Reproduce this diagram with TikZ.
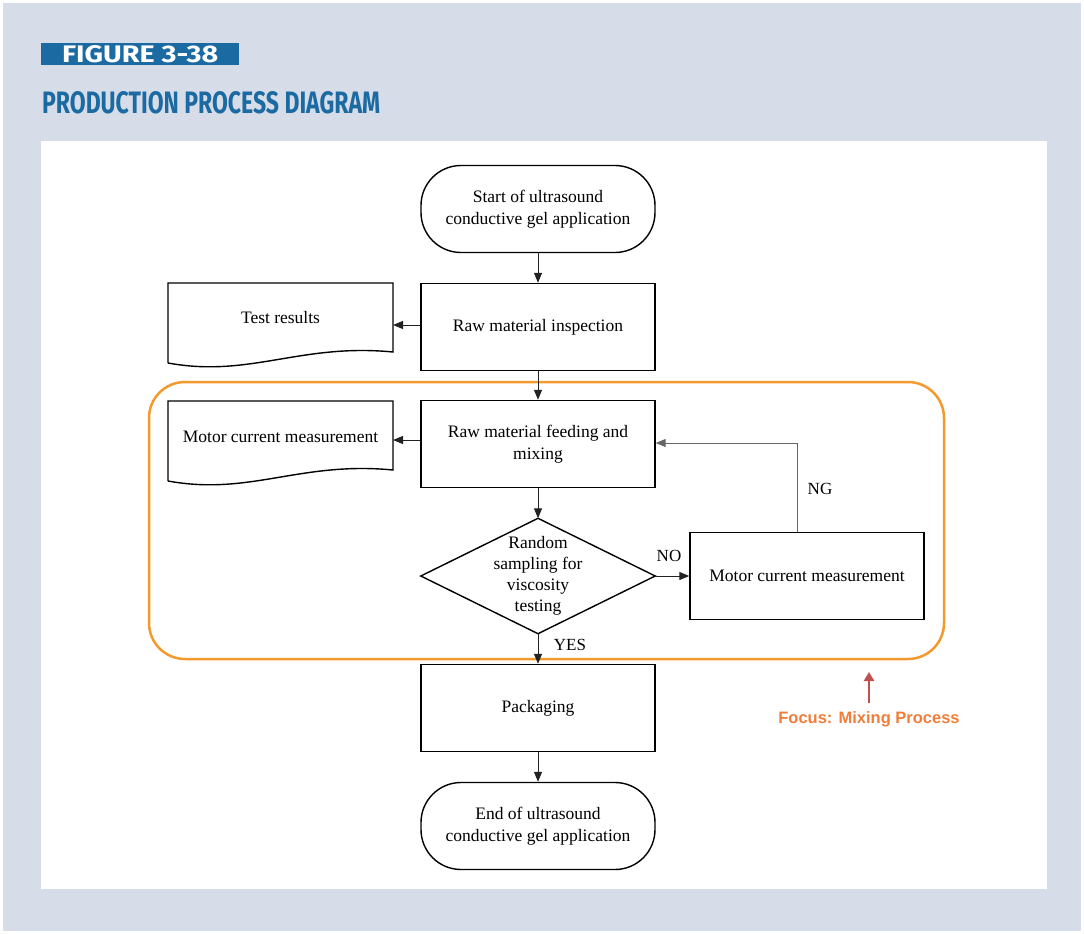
\documentclass[tikz,border=0pt]{standalone}
\usepackage{fontspec}
\setmainfont{Liberation Serif}
\newfontfamily\headfont{Fira Sans}
\newfontfamily\focusfont{Liberation Sans}
\usetikzlibrary{shapes.geometric,arrows.meta}
\definecolor{pagebg}{HTML}{D7DDE8}
\definecolor{figblue}{HTML}{1B6AA1}
\definecolor{focusorange}{HTML}{F39A2E}
\definecolor{focustext}{HTML}{F07E3A}
\definecolor{focusred}{HTML}{C0504D}
\definecolor{lineg}{HTML}{222222}
\tikzset{
  box/.style={draw=black, line width=1.4pt, minimum width=234pt, minimum height=87pt, inner sep=0pt, align=center, font=\fontsize{17.5}{22}\selectfont},
  terminal/.style={box, rounded corners=40pt},
  decision/.style={minimum width=234pt, minimum height=115pt, inner sep=0pt, align=center, font=\fontsize{17.5}{21}\selectfont},
  docarea/.style={minimum width=225pt, minimum height=70pt, inner sep=0pt, font=\fontsize{17.5}{22}\selectfont},
  docline/.style={draw=black, line width=1.4pt},
  flow/.style={draw=lineg, line width=1pt, -{Triangle[length=10pt,width=8pt]}},
  lbl/.style={font=\fontsize{17}{20}\selectfont},
}
\begin{document}
\begin{tikzpicture}[x=1pt,y=-1pt]
\useasboundingbox (0,0) rectangle (1084,934);
\fill[white] (0,0) rectangle (1084,934);
\fill[pagebg] (3,3) rectangle (1081,931);
\fill[white] (41,141) rectangle (1047,889);
% header
\fill[figblue] (41,43) rectangle (239,65);
\node[anchor=south west, inner sep=0pt, text=white] (fig) at (62,63) {\resizebox{156pt}{17pt}{\headfont\bfseries FIGURE 3-38}};
\node[anchor=south west, inner sep=0pt, text=figblue] (title) at (42,114) {\resizebox{338pt}{22pt}{\headfont\bfseries PRODUCTION PROCESS DIAGRAM}};
% focus frame
\draw[focusorange, line width=2.5pt, rounded corners=36pt] (149,382) rectangle (944,659);
% nodes
\node[terminal] (start) at (538,209) {Start of ultrasound\\conductive gel application};
\node[box] (insp) at (538,327) {Raw material inspection};
\node[box] (feed) at (538,444) {Raw material feeding and\\mixing};
\node[decision] (dec) at (538,576) {Random\\sampling for\\viscosity\\testing};
\draw[docline] (dec.west) -- (dec.north) -- (dec.east) -- (dec.south) -- cycle;
\node[box] (motor) at (807,576) {Motor current measurement};
\node[box] (pack) at (538,708) {Packaging};
\node[terminal] (end) at (538,826) {End of ultrasound\\conductive gel application};
% documents
\node[docarea] (test) at (280.5,318) {Test results};
\draw[docline] (168,363) -- (168,283) -- (393,283) -- (393,352) .. controls (300,343) and (250,378) .. (168,363);
\node[docarea] (mcm) at (280.5,437) {Motor current measurement};
\draw[docline] (168,481) -- (168,401) -- (393,401) -- (393,470) .. controls (300,461) and (250,496) .. (168,481);
\coordinate (testin) at (393,325);
\coordinate (mcmin) at (393,440);
\coordinate (ngup) at (797,443);
% connectors
\draw[flow] (start) -- (insp);
\draw[flow] (insp.west |- testin) -- (testin);
\draw[flow] (insp) -- (feed);
\draw[flow] (feed.west |- mcmin) -- (mcmin);
\draw[flow] (feed) -- (dec.north);
\draw[flow] (dec.east) -- (motor.west |- dec.east);
\draw[flow] (dec.south) -- (pack.north);
\draw[flow] (pack) -- (end);
\draw[flow, draw=black!60] (motor.north -| ngup) -- (ngup) -- (feed.east |- ngup);
% labels
\node[lbl] (no) at (669,556) {NO};
\node[lbl] (ng) at (820,489) {NG};
\node[lbl] (yes) at (570,645) {YES};
% focus annotation
\node[font=\focusfont\bfseries\fontsize{16.5}{20}\selectfont, text=focustext] (focus) at (869,719) {Focus: Mixing Process};
\coordinate (arrtop) at (869,672);
\draw[focusred, line width=2.6pt, -{Triangle[length=9pt,width=10pt]}] (869,703) -- (arrtop);
\end{tikzpicture}
\end{document}
